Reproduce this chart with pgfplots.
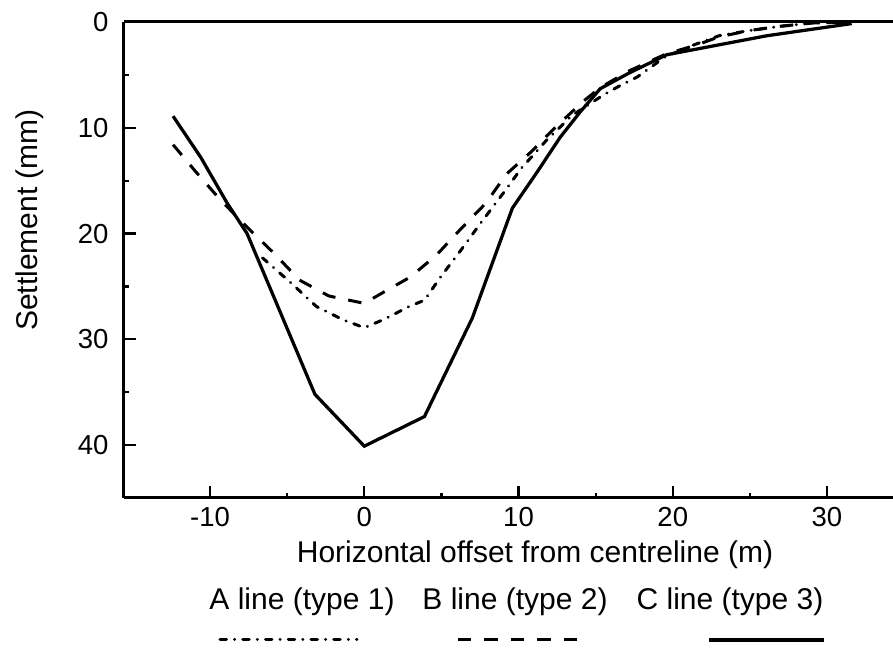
\documentclass[border=0pt]{standalone}
\usepackage{pgfplots}
\pgfplotsset{compat=1.18}
\usepackage{fontspec}
\setmainfont{Liberation Sans}

\begin{document}
\begin{tikzpicture}[x=1pt,y=1pt]
\tikzset{
  lineA/.style={line width=1.2pt, line cap=round, dash pattern=on 2.6pt off 3.2pt on 0.1pt off 3.2pt},
  lineB/.style={line width=1.2pt, dash pattern=on 5.4pt off 5.2pt},
  lineC/.style={line width=1.3pt},
}
\begin{axis}[
  at={(153.8pt,95.2pt)}, anchor=center,
  width=307.6pt, height=190.4pt, scale only axis,
  xmin=-15.58, xmax=34.28,
  ymin=0, ymax=45,
  y dir=reverse,
  axis x line*=bottom, axis y line*=left,
  axis line style={line width=1.2pt, -},
  xtick={-10,0,10,20,30},
  ytick={0,10,20,30,40},
  minor x tick num=1, minor y tick num=1,
  tick align=inside,
  major tick length=4.8pt, minor tick length=2pt,
  tick style={line width=0.9pt, black},
  ticklabel style={font=\fontsize{11}{13}\selectfont},
  yticklabel style={xshift=-2.7pt},
  /pgf/number format/assume math mode=true,
  no markers,
  clip=false,
]
% top border line (no right border in the original)
\draw[line width=1.2pt] (axis cs:-15.58,0) -- (axis cs:34.28,0);

% A line (type 1)
\addplot[lineA] coordinates {
  (-6.6,22.3) (-4.8,24.6) (-3.1,26.9) (-1.3,28.2) (0,28.9) (1.3,28.1)
  (2.9,26.9) (3.9,26.3) (5,24) (6.3,21.5) (7.6,18.9) (8.9,16.4)
  (10.2,13.8) (11.8,11.2) (13.5,8.8) (15.5,6.9) (16.6,6.0) (17.7,5.2)
  (19.5,3.3) (21.3,2.2) (23,1.3) (25,0.8) (27,0.4) (29,0.1) (31.5,0)
};
% B line (type 2)
\addplot[lineB] coordinates {
  (-12.4,11.6) (-10.9,14.2) (-9.4,16.7) (-7.6,19.4) (-5.9,21.8) (-4.2,24.4)
  (-2.3,25.9) (0,26.6) (1.3,25.5) (3,24.1) (4.7,22) (6.3,19.5) (7.9,17.1)
  (9.2,14.4) (10.8,12.3) (12.5,9.8) (14.2,7.5) (15.3,6.2) (17.2,4.6)
  (19.6,3.0) (21.5,2.2) (23,1.4) (25,0.8) (27,0.4) (29,0.1) (31.5,0)
};
% C line (type 3)
\addplot[lineC] coordinates {
  (-12.4,8.9) (-10.6,12.8) (-8.9,17.1) (-7.6,20) (-3.2,35.2) (0,40.1)
  (3.9,37.3) (7,28) (9.6,17.6) (11.2,14.2) (12.7,10.9) (14,8.5)
  (15.3,6.3) (17.2,4.8) (19.6,3.1) (26.1,1.3) (31.6,0.15)
};
\end{axis}

% axis labels
\node[anchor=base, font=\fontsize{12}{14}\selectfont] at (164.4,-26) {Horizontal offset from centreline (m)};
\node[rotate=90, anchor=base, font=\fontsize{12}{14}\selectfont] at (-34.4,111.2) {Settlement (mm)};

% legend: text row with line samples below
\begin{scope}[font=\fontsize{12}{14}\selectfont]
  \node[anchor=base] at (71.2,-44.8) {A line (type 1)};
  \node[anchor=base] at (156.4,-44.8) {B line (type 2)};
  \node[anchor=base] at (242.4,-44.8) {C line (type 3)};
\end{scope}
\draw[lineA] (38.4,-56.8) -- (93.2,-56.8);
\draw[lineB] (133.6,-56.8) -- (185.2,-56.8);
\draw[lineC] (234,-56.8) -- (280,-56.8);

\pgfresetboundingbox
\path[use as bounding box] (-49.6,-60.4) rectangle (307.6,199.2);
\end{tikzpicture}
\end{document}
